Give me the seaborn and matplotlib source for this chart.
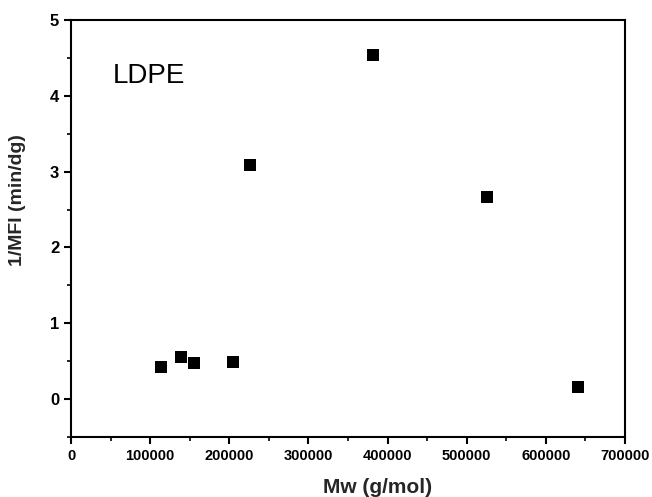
import matplotlib
matplotlib.use("Agg")
import matplotlib.pyplot as plt
import seaborn as sns
import pandas as pd
from matplotlib.ticker import MultipleLocator

mw = [113800, 139000, 155500, 204800, 226300, 382000, 525000, 640000]
inv_mfi = [0.42, 0.55, 0.47, 0.49, 3.09, 4.54, 2.67, 0.16]
x_ticks = [0, 100000, 200000, 300000, 400000, 500000, 600000, 700000]
y_ticks = [0, 1, 2, 3, 4, 5]

sns.set_theme(style="white")
plt.rcParams['font.family'] = ['Liberation Sans', 'DejaVu Sans']

df = pd.DataFrame({"Mw": mw, "invMFI": inv_mfi})

fig = plt.figure(figsize=(6.52, 4.97), dpi=100)
ax = fig.add_axes([71/652, 60/497, 554/652, 417/497])
sns.scatterplot(data=df, x="Mw", y="invMFI", marker="s", s=70, color="black",
                edgecolor="black", linewidth=0, ax=ax)

ax.set_xlim(0, 700000)
ax.set_ylim(-0.5, 5)
ax.set_xticks(x_ticks)
ax.set_xticklabels([str(v) for v in x_ticks])
ax.set_yticks(y_ticks)
ax.set_yticklabels([str(v) for v in y_ticks])
ax.xaxis.set_minor_locator(MultipleLocator(50000))
ax.yaxis.set_minor_locator(MultipleLocator(0.5))

for s in ax.spines.values():
    s.set_visible(True)
    s.set_color("black")
    s.set_linewidth(1.5)

ax.tick_params(axis="x", which="major", labelsize=10.5)
ax.tick_params(axis="y", which="major", labelsize=12)
ax.tick_params(axis="both", which="major", direction="out", length=5, width=1.5,
               colors="black", bottom=True, left=True, top=False, right=False)
ax.tick_params(axis="both", which="minor", direction="out", length=3, width=1.2,
               colors="black", bottom=True, left=True, top=False, right=False)
for lab in ax.get_xticklabels() + ax.get_yticklabels():
    lab.set_fontweight("bold")

ax.set_xlabel("Mw (g/mol)", fontsize=15, fontweight="bold")
ax.set_ylabel("1/MFI (min/dg)", fontsize=14, fontweight="bold")
ax.xaxis.set_label_coords((378 - 71) / 554, (437 - 478) / 417)
ax.yaxis.set_label_coords((26 - 71) / 554, (437 - 200) / 417)

ax.text(53000, 4.26, "LDPE", fontsize=20, va="center", ha="left", color="black")

fig.savefig("out.png", dpi=100)
